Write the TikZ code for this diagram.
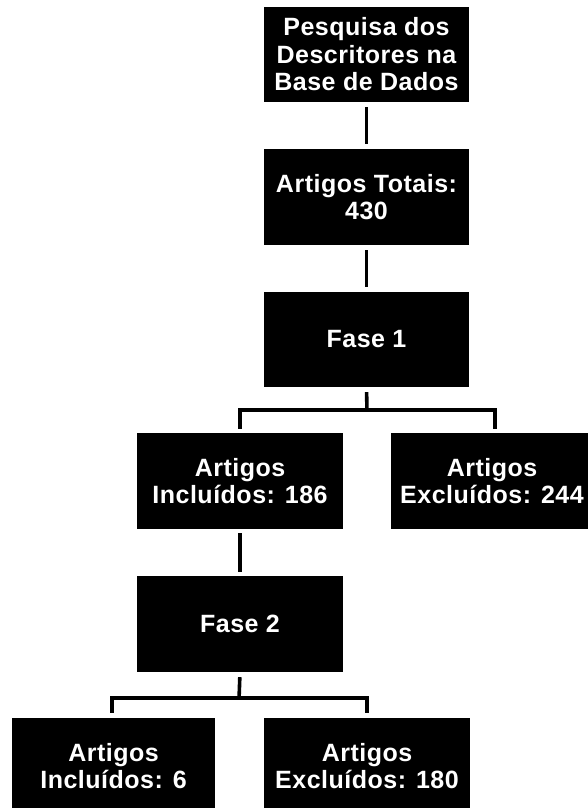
\documentclass[tikz,border=0pt]{standalone}
\usepackage{fontspec}
\setmainfont[LetterSpace=2]{Liberation Sans}
\begin{document}
\begin{tikzpicture}[x=1pt,y=-1pt,
  box/.style={fill=black, draw=none, text=white, align=center, inner sep=0pt,
    minimum width=205pt, minimum height=95pt,
    font=\bfseries\fontsize{25}{27.5}\selectfont},
  conn/.style={line width=3.6pt, draw=black}]
\useasboundingbox (0,0) rectangle (587,808);
\node[box] (pesq) at (366.5,54.5) {Pesquisa dos\\Descritores na\\Base de Dados};
\node[box, minimum height=96pt] (tot) at (366.5,197) {Artigos Totais:\\430};
\node[box] (f1) at (366.5,339.5) {Fase 1};
\node[box, minimum width=206pt, minimum height=96pt] (inc1) at (240,481) {Artigos\\Inclu\'idos: 186};
\node[box, minimum width=202pt, minimum height=96pt] (exc1) at (492,481) {Artigos\\Exclu\'idos: 244};
\node[box, minimum width=206pt, minimum height=96pt] (f2) at (240,624) {Fase 2};
\node[box, minimum width=203pt, minimum height=96pt] (inc2) at (113.5,766) {Artigos\\Inclu\'idos: 6};
\node[box, minimum width=206pt, minimum height=96pt] (exc2) at (367,766) {Artigos\\Exclu\'idos: 180};
\coordinate (b1) at (367,410);
\coordinate (b2) at (239,698);
\coordinate (d1) at ([xshift=3pt]exc1.north);
\coordinate (d2) at ([xshift=-1.5pt]inc2.north);
\draw[conn, shorten <=5pt, shorten >=5pt] (pesq) -- (tot);
\draw[conn, shorten <=5pt, shorten >=5pt] (tot) -- (f1);
\draw[conn, shorten <=5pt] (f1.south) -- ([yshift=-1.5pt]b1);
\draw[conn, shorten <=4pt, shorten >=4pt] (inc1.north) -- (inc1.north |- b1) -- (d1 |- b1) -- (d1);
\draw[conn, shorten <=4pt, shorten >=4pt] (inc1) -- (f2);
\draw[conn, shorten <=5pt] (f2.south) -- ([yshift=-1.5pt]b2);
\draw[conn, shorten <=5pt, shorten >=5pt] (d2) -- (d2 |- b2) -- (exc2.north |- b2) -- (exc2.north);
\end{tikzpicture}
\end{document}
